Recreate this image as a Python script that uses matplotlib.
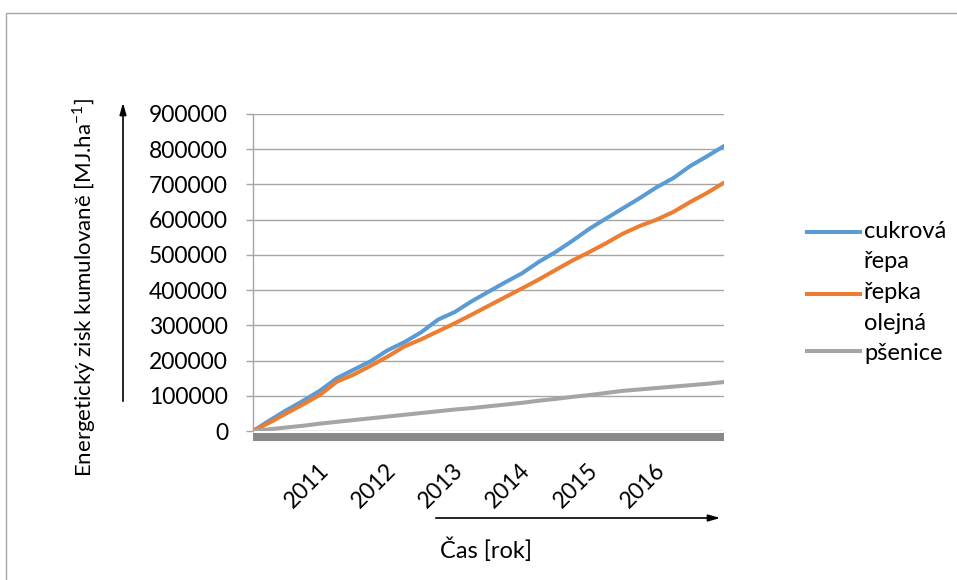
import pandas as pd
import matplotlib.pyplot as plt
import matplotlib.dates as mdates
import matplotlib.transforms as mtransforms
from matplotlib.patches import Rectangle
from matplotlib.lines import Line2D

plt.rcParams['font.family'] = ['Lato', 'DejaVu Sans']

# quarterly readings, cumulative energy gain [MJ/ha]
dates = pd.date_range('2010-01-01', '2017-01-01', freq='QS')
cukrova_repa = [0, 30000, 59000, 86000, 115000, 150000, 174000, 198000, 229000,
                252000, 280000, 316000, 338000, 368000, 395000, 422000, 448000,
                480000, 508000, 540000, 574000, 603000, 632000, 661000, 692000,
                718000, 752000, 780000, 809000]
repka_olejna = [0, 24000, 50000, 76000, 103000, 140000, 160000, 185000, 211000,
                240000, 260000, 283000, 306000, 330000, 355000, 380000, 405000,
                430000, 457000, 484000, 508000, 533000, 560000, 582000, 600000,
                622000, 650000, 676000, 705000]
psenice = [0, 5000, 10000, 15000, 21000, 26000, 31000, 36000, 41000, 46000,
           51000, 56000, 61000, 65000, 70000, 75000, 80000, 86000, 91000, 97000,
           102000, 108000, 114000, 118000, 122000, 126000, 130000, 134000, 139000]

series = [("cukrová\nřepa", cukrova_repa, '#5B9BD5'),
          ("řepka\nolejná", repka_olejna, '#ED7D31'),
          ("pšenice", psenice, '#A5A5A5')]

W, H = 957, 580
fig = plt.figure(figsize=(W / 100, H / 100), dpi=100)

# outer chart frame
fig.add_artist(Rectangle((5.5 / W, -0.05), 2, (H - 12.5) / H + 0.05,
                         transform=fig.transFigure, fill=False,
                         edgecolor='#a6a6a6', lw=1))

ax = fig.add_axes([253 / W, 1 - 431 / H, (724 - 253) / W, (431 - 114) / H])

for name, vals, col in series:
    ax.plot(dates, vals, color=col, lw=2.9, solid_capstyle='round', zorder=3)

ax.set_ylim(0, 900000)
ax.set_xlim(pd.Timestamp('2010-01-01'), pd.Timestamp('2017-01-01'))
ax.set_yticks(range(0, 900001, 100000))
ax.grid(axis='y', color='#a6a6a6', lw=1)
ax.set_axisbelow(True)

for s in ['top', 'right']:
    ax.spines[s].set_visible(False)
ax.spines['left'].set_color('#a6a6a6')
ax.spines['left'].set_linewidth(1)
ax.spines['bottom'].set_position(('outward', 4))
ax.spines['bottom'].set_linewidth(5.8)
ax.spines['bottom'].set_color('#898989')
ax.spines['bottom'].set_capstyle('butt')

ax.tick_params(axis='y', length=5, width=1, color='#a6a6a6', pad=13,
               labelsize=16.5)
ax.xaxis.set_major_formatter(mdates.DateFormatter('%Y'))
ax.set_xticks([pd.Timestamp(f'{y}-01-01') for y in range(2011, 2017)])
ax.tick_params(axis='x', length=0, pad=22, labelsize=16.5)
shift = mtransforms.ScaledTranslation(5 / 100, 0, fig.dpi_scale_trans)
for lbl in ax.get_xticklabels():
    lbl.set_rotation(45)
    lbl.set_ha('right')
    lbl.set_va('center')
    lbl.set_rotation_mode('anchor')
    lbl.set_transform(lbl.get_transform() + shift)

# axis titles and arrows
fig.text(84 / W, 1 - 288 / H,
         r'Energetický zisk kumulovaně [MJ.ha$^{\mathregular{-1}}$]',
         rotation=90, ha='center', va='center', fontsize=16)
fig.text(486 / W, 1 - 550 / H, 'Čas [rok]', ha='center', va='center',
         fontsize=17)
ax.annotate('', xy=(123, H - 100), xytext=(123, H - 404),
            xycoords='figure pixels', textcoords='figure pixels',
            arrowprops=dict(arrowstyle='-|>,head_length=0.7,head_width=0.2',
                            color='black', lw=1.2))
ax.annotate('', xy=(723, H - 518), xytext=(433, H - 518),
            xycoords='figure pixels', textcoords='figure pixels',
            arrowprops=dict(arrowstyle='-|>,head_length=0.7,head_width=0.2',
                            color='black', lw=1.2))

# legend, drawn by hand to mimic wrapped Excel entries
line_y = [232, 294, 351]
text_base = [[238, 268], [299, 330], [360]]
for (name, vals, col), ly, tb in zip(series, line_y, text_base):
    fig.add_artist(Line2D([807 / W, 860 / W], [1 - ly / H, 1 - ly / H],
                          transform=fig.transFigure, color=col, lw=2.9))
    for part, by in zip(name.split('\n'), tb):
        fig.text(864 / W, 1 - by / H, part, ha='left', va='baseline',
                 fontsize=17)

fig.savefig('out.png', dpi=100)
